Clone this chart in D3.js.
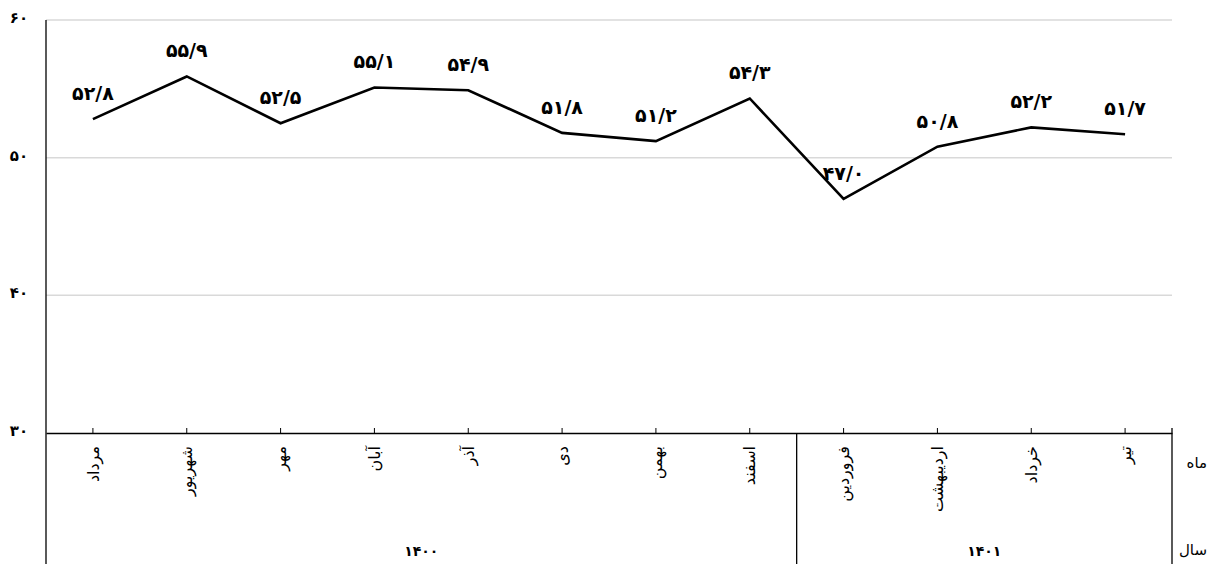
<!DOCTYPE html>
<html><head><meta charset="utf-8">
<script src="https://cdn.jsdelivr.net/npm/d3@7"></script>
<style>body{margin:0;background:#fff}svg{display:block}</style>
</head><body><svg id="c" width="1219" height="564"></svg>
<script>
const months = ["مرداد","شهریور","مهر","آبان","آذر","دی","بهمن","اسفند","فروردین","اردیبهشت","خرداد","تیر"];
const values = [52.8,55.9,52.5,55.1,54.9,51.8,51.2,54.3,47.0,50.8,52.2,51.7];
const years = ["۱۴۰۰","۱۴۰۱"];
const yearSpans = [8,4];
const yTicks = [30,40,50,60];
const rowLabels = ["ماه","سال"];

const toFa = s => String(s).replace(/\d/g, d => "۰۱۲۳۴۵۶۷۸۹"[+d]);
const fmt = v => toFa(v.toFixed(1)).replace(".", "/");
const FONT = "'DejaVu Sans', sans-serif";

const svg = d3.select("#c");
const L = 46, R = 1172, T = 20, B = 433, BOTTOM = 564;
const x = d3.scaleBand().domain(d3.range(months.length)).range([L, R]);
const y = d3.scaleLinear().domain([30, 60]).range([B, T]);
const cx = i => x(i) + x.bandwidth() / 2;

// gridlines
svg.append("g").selectAll("line").data(yTicks.filter(t => t > 30)).join("line")
  .attr("x1", L).attr("x2", R).attr("y1", d => y(d)).attr("y2", d => y(d))
  .attr("stroke", "#d9d9d9").attr("stroke-width", 1.5);

// y labels
svg.append("g").selectAll("text").data(yTicks).join("text")
  .attr("x", 19).attr("y", d => y(d) - 2)
  .attr("text-anchor", "middle").attr("dominant-baseline", "central")
  .attr("font-family", FONT).attr("font-size", 15).attr("font-weight", "bold")
  .text(d => toFa(d));

// bottom axis with inside ticks
const xAxis = d3.axisBottom(x).tickSizeInner(-5).tickSizeOuter(0).tickFormat("");
const ga = svg.append("g").attr("transform", `translate(0,${B})`).call(xAxis);
ga.select(".domain").attr("stroke", "#000").attr("stroke-width", 1.3);
ga.selectAll(".tick line").attr("stroke", "#000").attr("stroke-width", 1);

// left axis line
svg.append("line").attr("x1", L).attr("x2", L).attr("y1", T).attr("y2", BOTTOM)
  .attr("stroke", "#000").attr("stroke-width", 1.3);
// right line
svg.append("line").attr("x1", R).attr("x2", R).attr("y1", B - 5).attr("y2", BOTTOM)
  .attr("stroke", "#000").attr("stroke-width", 1.3);
// year separators
let acc = 0;
const yearBounds = [];
yearSpans.forEach((s) => {
  const start = acc; acc += s;
  yearBounds.push([start, acc]);
  if (acc < months.length) {
    svg.append("line").attr("x1", x(acc)).attr("x2", x(acc)).attr("y1", B).attr("y2", BOTTOM)
      .attr("stroke", "#000").attr("stroke-width", 1.3);
  }
});

// month labels (rotated)
svg.append("g").selectAll("text").data(months).join("text")
  .attr("transform", (d, i) => `translate(${cx(i)},446) rotate(-90)`)
  .attr("text-anchor", "end").attr("dy", "0.35em")
  .attr("font-family", FONT).attr("font-size", 16)
  .text(d => d);

// year labels
svg.append("g").selectAll("text").data(years).join("text")
  .attr("x", (d, k) => (x(yearBounds[k][0]) + (yearBounds[k][1] >= months.length ? R : x(yearBounds[k][1]))) / 2)
  .attr("y", 551).attr("text-anchor", "middle").attr("dominant-baseline", "central")
  .attr("font-family", FONT).attr("font-size", 14).attr("font-weight", "bold")
  .text(d => d);

// row labels
svg.append("g").selectAll("text").data(rowLabels).join("text")
  .attr("x", 1207).attr("y", (d, i) => i === 0 ? 463 : 550)
  .attr("text-anchor", "end").attr("dominant-baseline", "central")
  .attr("font-family", FONT).attr("font-size", 15)
  .text(d => d);

// line
const line = d3.line().x((d, i) => cx(i)).y(d => y(d));
svg.append("path").datum(values).attr("d", line)
  .attr("fill", "none").attr("stroke", "#000").attr("stroke-width", 2.6)
  .attr("stroke-linejoin", "miter");

// data labels
svg.append("g").selectAll("text").data(values).join("text")
  .attr("x", (d, i) => cx(i)).attr("y", d => y(d) - 26)
  .attr("text-anchor", "middle").attr("dominant-baseline", "central")
  .attr("font-family", FONT).attr("font-size", 19).attr("font-weight", "bold")
  .text(d => fmt(d));
</script></body></html>
